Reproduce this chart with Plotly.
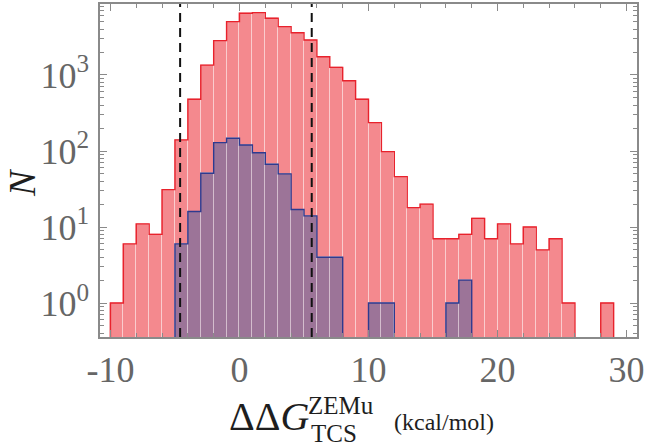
import plotly.graph_objects as go

# ---------------- data ----------------
bin_left = list(range(-10, 29))          # left edges of unit-width bins
bin_width = 1.0
red_counts = [1, 6, 11, 8, 31, 140, 480, 1350, 2830, 5030,
              6480, 6620, 5570, 4330, 3600, 2890, 1740, 1260, 840, 480,
              236, 98, 46, 18, 20, 7, 7, 8, 13, 7,
              11, 6, 10, 5, 7, 1, 0, 0, 1]
blue_counts = [0, 0, 0, 0, 0, 6, 16, 51, 129, 147,
               120, 95, 67, 50, 17, 14, 4, 4, 0, 0,
               1, 1, 0, 0, 0, 0, 1, 2, 0, 0,
               0, 0, 0, 0, 0, 0, 0, 0, 0]
dash_positions = [-4.6, 5.6]
x_tickvals = [-10, 0, 10, 20, 30]
x_ticktext = ["-10", "0", "10", "20", "30"]
y_tickvals = [1, 10, 100, 1000]
y_ticktext = ["10<sup>0</sup>", "10<sup>1</sup>", "10<sup>2</sup>", "10<sup>3</sup>"]

# ---------------- styling ----------------
RED_FILL = "#F4898E"
RED_LINE = "#E8222C"
BLUE_FILL = "#9C7498"
BLUE_LINE = "#2E3A8F"
AXIS_GRAY = "#8A8A8A"
LABEL_GRAY = "#666666"
TITLE_COL = "#1E1E1E"
SERIF = "Liberation Serif"

W, H = 648, 446
L, R, T, B = 100, 11, 4, 109
PW, PH = W - L - R, H - T - B


def px(xp):
    return (xp - L) / PW


def py(yp):
    return (H - B - yp) / PH


centers = [e + bin_width / 2 for e in bin_left]


def outline(counts, floor=0.1):
    xs, ys = [bin_left[0]], [floor]
    for e, c in zip(bin_left, counts):
        xs.append(e)
        ys.append(c if c > 0 else floor)
    xs.append(bin_left[-1] + bin_width)
    ys.append(floor)
    return xs, ys


fig = go.Figure()
for counts, fill in ((red_counts, RED_FILL), (blue_counts, BLUE_FILL)):
    fig.add_trace(go.Bar(
        x=centers, y=[c if c > 0 else None for c in counts], width=bin_width,
        marker=dict(color=fill, line=dict(color="rgba(255,255,255,0.35)", width=1)),
        showlegend=False, hoverinfo="skip"))

for counts, col in ((red_counts, RED_LINE), (blue_counts, BLUE_LINE)):
    xs, ys = outline(counts)
    fig.add_trace(go.Scatter(x=xs, y=ys, mode="lines", line_shape="hv",
                             line=dict(color=col, width=1.4),
                             showlegend=False, hoverinfo="skip"))

for xv in dash_positions:
    fig.add_shape(type="line", xref="x", yref="paper", x0=xv, x1=xv, y0=0, y1=1,
                  line=dict(color="#111111", width=2, dash="9px,6px"), layer="above")

axis_common = dict(showgrid=False, zeroline=False, showline=True, linecolor=AXIS_GRAY,
                   linewidth=1.5, mirror="allticks", ticks="inside", ticklen=7,
                   tickwidth=1, tickcolor=AXIS_GRAY, automargin=False,
                   tickfont=dict(family=SERIF, size=36, color=LABEL_GRAY))

fig.update_layout(
    width=W, height=H, margin=dict(l=L, r=R, t=T, b=B),
    paper_bgcolor="white", plot_bgcolor="white", barmode="overlay", bargap=0,
    xaxis=dict(range=[-10.81, 30.81], tickmode="array", tickvals=x_tickvals,
               ticktext=x_ticktext, ticklabelstandoff=0,
               minor=dict(dtick=2, tick0=0, ticks="inside", ticklen=4,
                          tickcolor=AXIS_GRAY, showgrid=False),
               **axis_common),
    yaxis=dict(type="log", range=[-0.447, 3.934], tickmode="array", tickvals=y_tickvals,
               ticktext=y_ticktext, ticklabelstandoff=2,
               minor=dict(tickmode="array",
                          tickvals=[m * 10 ** k for k in range(-1, 4) for m in range(2, 10)],
                          ticks="inside", ticklen=4, tickcolor=AXIS_GRAY, showgrid=False),
               **axis_common),
    annotations=[
        dict(text="<i>N</i>", xref="paper", yref="paper", x=px(22), y=py(182),
             showarrow=False, textangle=-90, xanchor="center", yanchor="middle",
             font=dict(family=SERIF, size=38, color=TITLE_COL)),
        dict(text="ΔΔ<i>G</i>", xref="paper", yref="paper", x=px(311), y=py(416),
             showarrow=False, xanchor="right", yanchor="middle",
             font=dict(family=SERIF, size=40, color=TITLE_COL)),
        dict(text="ZEMu", xref="paper", yref="paper", x=px(306), y=py(405),
             showarrow=False, xanchor="left", yanchor="middle",
             font=dict(family=SERIF, size=25, color=TITLE_COL)),
        dict(text="TCS", xref="paper", yref="paper", x=px(309), y=py(433),
             showarrow=False, xanchor="left", yanchor="middle",
             font=dict(family=SERIF, size=25, color=TITLE_COL)),
        dict(text="(kcal/mol)", xref="paper", yref="paper", x=px(392), y=py(422),
             showarrow=False, xanchor="left", yanchor="middle",
             font=dict(family=SERIF, size=24, color=TITLE_COL)),
    ],
)

fig.write_html("out.html", config={"displayModeBar": False},
               post_script="document.body.style.margin='0';document.body.style.padding='0';")
